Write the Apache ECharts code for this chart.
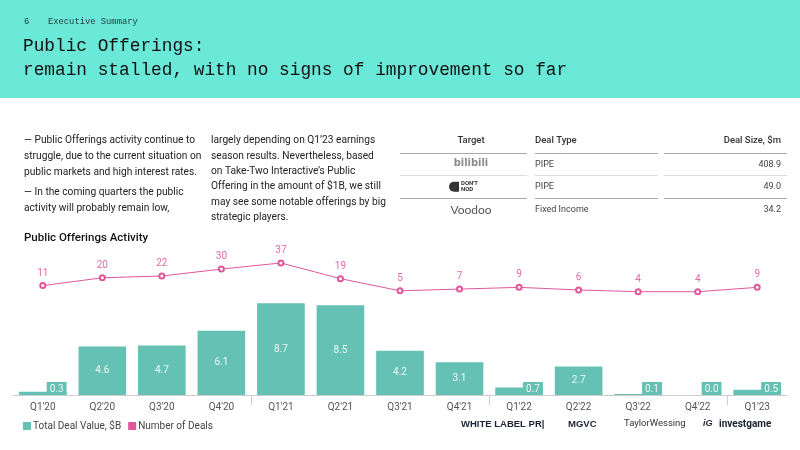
<!DOCTYPE html>
<html>
<head>
<meta charset="utf-8">
<script src="https://cdn.jsdelivr.net/npm/echarts@6/dist/echarts.min.js"></script>
<style>
html,body{margin:0;padding:0;background:#fff;}
#c{width:800px;height:450px;}
</style>
</head>
<body>
<div id="c"></div>
<script>
var categories = ["Q1'20","Q2'20","Q3'20","Q4'20","Q1'21","Q2'21","Q3'21","Q4'21","Q1'22","Q2'22","Q3'22","Q4'22","Q1'23"];
var dealValue = [0.3,4.6,4.7,6.1,8.7,8.5,4.2,3.1,0.7,2.7,0.1,0.0,0.5];
var dealCount = [11,20,22,30,37,19,5,7,9,6,4,4,9];
var yearStarts = ["Q1'21","Q1'22","Q1'23"];
var tableTargets = ["bilibili","DON'T NOD","Voodoo"];
var tableTypes = ["PIPE","PIPE","Fixed Income"];
var tableSizes = ["408.9","49.0","34.2"];
var col1Lines = [
  ["— Public Offerings activity continue to","struggle, due to the current situation on","public markets and high interest rates."],
  ["— In the coming quarters the public","activity will probably remain low,"]
];
var col2Lines = ["largely depending on Q1\u201923 earnings","season results. Nevertheless, based","on Take-Two Interactive\u2019s Public","Offering in the amount of $1B, we still","may see some notable offerings by big","strategic players."];

var TEAL = '#64c1b3';
var PINK = '#e2579c';
var SANS = 'Roboto, "Noto Sans", sans-serif';
var MONO = '"Liberation Mono", "DejaVu Sans Mono", monospace';

function txt(t, x, y, font, fill, align, extra) {
  var s = {text: t, x: x, y: y, font: font, fill: fill,
    align: align || 'left', verticalAlign: 'middle',
    textAlign: align || 'left', textVerticalAlign: 'middle'};
  if (extra) for (var k in extra) s[k] = extra[k];
  return {type: 'text', silent: true, style: s};
}
function hline(x1, x2, y, color) {
  return {type: 'line', silent: true, shape: {x1: x1, y1: y, x2: x2, y2: y}, style: {stroke: color, lineWidth: 1}};
}

var g = [];
g.push({type: 'rect', silent: true, shape: {x: 0, y: 0, width: 800, height: 98}, style: {fill: '#6ae8d8'}, z: -1});
g.push(txt('6', 24, 22, '8.8px ' + MONO, '#1f3b38'));
g.push(txt('Executive Summary', 48, 22, '8.8px ' + MONO, '#1f3b38'));
g.push(txt('Public Offerings:', 23, 46, '17.8px ' + MONO, '#111'));
g.push(txt('remain stalled, with no signs of improvement so far', 23, 70, '17.8px ' + MONO, '#111'));

var ys1 = [[140.7,156.3,172],[192.7,208.3]];
for (var p = 0; p < col1Lines.length; p++)
  for (var i = 0; i < col1Lines[p].length; i++)
    g.push(txt(col1Lines[p][i], 24, ys1[p][i], '10.2px ' + SANS, '#222'));
for (var i = 0; i < col2Lines.length; i++)
  g.push(txt(col2Lines[i], 211, 140.7 + i * 15.4, '10.2px ' + SANS, '#222'));

// table
g.push(txt('Target', 471, 141, '500 9.5px ' + SANS, '#333', 'center'));
g.push(txt('Deal Type', 535, 141, '500 9.5px ' + SANS, '#333'));
g.push(txt('Deal Size, $m', 781, 141, '500 9.5px ' + SANS, '#333', 'right'));
var rowY = [164.3, 186.7, 210];
var sepY = [153.5, 175.5, 198.5];
var sepC = ['#aaa', '#ddd', '#aaa'];
for (var i = 0; i < 3; i++) {
  g.push(hline(400, 527, sepY[i], sepC[i]));
  g.push(hline(535, 658, sepY[i], sepC[i]));
  g.push(hline(664, 787, sepY[i], sepC[i]));
  g.push(txt(tableTypes[i], 535, rowY[i], '9px ' + SANS, '#444'));
  g.push(txt(tableSizes[i], 781, rowY[i], '9px ' + SANS, '#444', 'right'));
}
g.push(txt(tableTargets[0], 471, rowY[0] - 1, 'bold 11px "DejaVu Sans Condensed", sans-serif', '#8a8a8a', 'center'));
g.push({type: 'rect', silent: true, shape: {x: 449, y: rowY[1] - 5, width: 10, height: 10, r: [5, 0, 0, 5]}, style: {fill: '#333'}});
g.push(txt("DON'T", 461, rowY[1] - 3, 'bold 6px ' + SANS, '#333'));
g.push(txt('NOD', 461, rowY[1] + 3, 'bold 6px ' + SANS, '#333'));
g.push(txt(tableTargets[2], 471, rowY[2], '12px Lato, sans-serif', '#555', 'center'));

g.push(txt('Public Offerings Activity', 24, 238, '500 11.5px ' + SANS, '#111'));

// bottom logos
g.push(txt('WHITE LABEL PR|', 461, 424, '900 9.5px "Liberation Sans", sans-serif', '#1a2233'));
g.push(txt('MGVC', 568, 424, '900 9.5px "Liberation Sans", sans-serif', '#1a2233'));
g.push(txt('TaylorWessing', 624, 424, '9.5px Roboto, sans-serif', '#333'));
g.push(txt('iG', 703, 424, 'italic 900 9px "Liberation Sans", sans-serif', '#1a2233'));
g.push(txt('investgame', 719, 424, 'bold 10px Roboto, sans-serif', '#1a2233'));

var barData = dealValue.map(function (v) {
  if (v < 1) {
    return {value: v, label: {position: 'insideBottomRight', distance: 0, backgroundColor: TEAL, padding: [2, 3, 1, 3]}};
  }
  return v;
});

var chart = echarts.init(document.getElementById('c'), null, {renderer: 'canvas'});
chart.setOption({
  animation: false,
  backgroundColor: '#fff',
  graphic: g,
  legend: {
    left: 18, top: 416, itemWidth: 8, itemHeight: 8, itemGap: 7,
    icon: 'rect',
    textStyle: {fontSize: 10, color: '#444', fontFamily: SANS, padding: [0, 0, 0, -3]},
    data: ['Total Deal Value, $B', 'Number of Deals']
  },
  grid: {left: 13, right: 13, top: 240, height: 155},
  xAxis: {
    type: 'category', data: categories,
    axisLine: {lineStyle: {color: '#ccc'}},
    axisTick: {show: false},
    axisLabel: {color: '#555', fontSize: 10, fontFamily: SANS, margin: 7}
  },
  yAxis: [
    {type: 'value', min: 0, max: 14.7, show: false},
    {type: 'value', min: -114.7, max: 63.4, show: false}
  ],
  series: [
    {
      name: 'Total Deal Value, $B', type: 'bar', data: barData, barWidth: '80%',
      itemStyle: {color: TEAL},
      label: {show: true, position: 'inside', color: '#eef8f6', fontSize: 10, fontFamily: SANS,
        formatter: function (p) { return dealValue[p.dataIndex].toFixed(1); }}
    },
    {
      name: 'Number of Deals', type: 'line', yAxisIndex: 1, data: dealCount,
      symbol: 'emptyCircle', symbolSize: 5,
      lineStyle: {color: PINK, width: 1}, itemStyle: {color: PINK, borderWidth: 1},
      label: {show: true, position: 'top', color: '#e46aa8', fontSize: 10, fontFamily: SANS, distance: 4}
    }
  ]
});

// year separators at category boundaries, positioned through the axis scale
var p0 = chart.convertToPixel({xAxisIndex: 0}, categories[0]);
var p1 = chart.convertToPixel({xAxisIndex: 0}, categories[1]);
var half = (p1 - p0) / 2;
var y0 = chart.convertToPixel({yAxisIndex: 0}, 0);
var sepEls = yearStarts.map(function (c) {
  var x = Math.round(chart.convertToPixel({xAxisIndex: 0}, c) - half) + 0.5;
  return {type: 'line', silent: true, shape: {x1: x, y1: y0, x2: x, y2: y0 + 10}, style: {stroke: '#ccc', lineWidth: 1}};
});
chart.setOption({graphic: g.concat(sepEls)});
</script>
</body>
</html>
